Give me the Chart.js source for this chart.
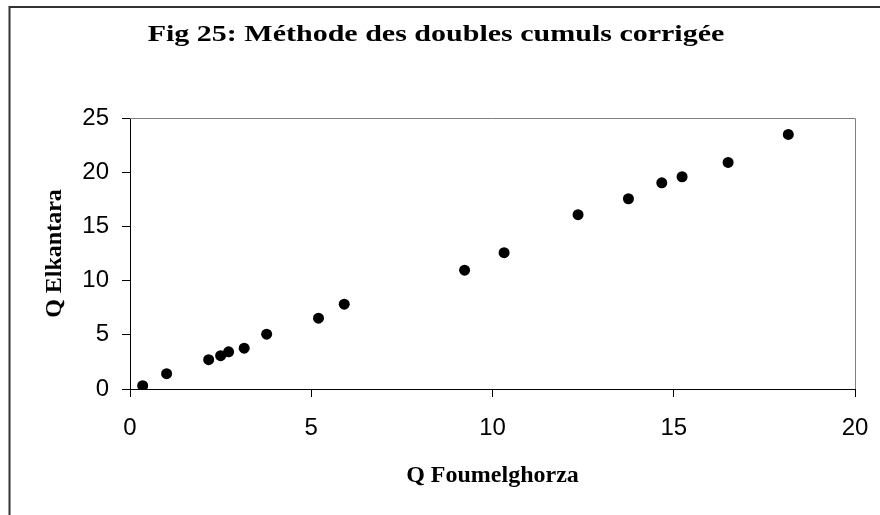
<!DOCTYPE html>
<html>
<head>
<meta charset="utf-8">
<script src="https://cdn.jsdelivr.net/npm/chart.js@4.4.1/dist/chart.umd.min.js"></script>
<style>
  html, body { margin: 0; padding: 0; background: #fff; }
  #wrap { width: 880px; height: 515px; }
</style>
</head>
<body>
<div id="wrap"><canvas id="graphe" width="880" height="515"></canvas></div>
<script>
// Valeurs (doubles cumuls)
const qFoumelghorza = [0.35, 1.01, 2.17, 2.50, 2.72, 3.15, 3.77, 5.20, 5.91, 9.23, 10.32, 12.36, 13.75, 14.67, 15.23, 16.50, 18.16];
const qElkantara    = [0.30, 1.41, 2.70, 3.07, 3.43, 3.77, 5.06, 6.53, 7.82, 10.96, 12.58, 16.08, 17.55, 19.02, 19.58, 20.90, 23.48];
const ticksX = [0, 5, 10, 15, 20];
const ticksY = [0, 5, 10, 15, 20, 25];

const titre = "Fig 25: Méthode des doubles cumuls corrigée";
const titreX = "Q Foumelghorza";
const titreY = "Q Elkantara";

const points = qFoumelghorza.map((x, i) => ({ x: x, y: qElkantara[i] }));

// titre un peu etire en largeur, comme sur la figure d'origine
const titreEtire = {
    id: "titreEtire",
    afterDraw(chart) {
        const ctx = chart.ctx;
        ctx.save();
        ctx.font = "bold 24px 'Liberation Serif', 'Times New Roman', serif";
        ctx.fillStyle = "#000";
        ctx.textAlign = "center";
        ctx.textBaseline = "alphabetic";
        ctx.translate(chart.width / 2 - 4, 41);
        ctx.scale(1.25, 1);
        ctx.fillText(titre, 0, 0);
        ctx.restore();
    }
};

// cadre gris du trace + bordure de la page
const cadre = {
    id: "cadre",
    afterDraw(chart) {
        const { ctx, chartArea: a } = chart;
        ctx.save();
        ctx.strokeStyle = "#808080";
        ctx.lineWidth = 1;
        ctx.beginPath();
        ctx.moveTo(a.left, a.top + 0.5);
        ctx.lineTo(a.right + 0.5, a.top + 0.5);
        ctx.lineTo(a.right + 0.5, a.bottom);
        ctx.stroke();
        ctx.strokeStyle = "#333";
        ctx.lineWidth = 2;
        ctx.beginPath();
        ctx.moveTo(9.5, 515);
        ctx.lineTo(9.5, 7);
        ctx.lineTo(880, 7);
        ctx.stroke();
        ctx.restore();
    }
};

const axe = (ticks) => ({
    type: "linear",
    min: ticks[0],
    max: ticks[ticks.length - 1],
    afterBuildTicks: s => { s.ticks = ticks.map(v => ({ value: v })); },
    grid: { display: true, drawOnChartArea: false, drawTicks: true, tickLength: 8, color: "#000" },
    border: { display: true, color: "#000", width: 1 },
});

new Chart(document.getElementById("graphe").getContext("2d"), {
    type: "scatter",
    data: {
        datasets: [{
            data: points,
            backgroundColor: "#000",
            borderWidth: 0,
            pointRadius: 5.5,
            pointHoverRadius: 5.5,
        }],
    },
    options: {
        responsive: false,
        animation: false,
        layout: { padding: { left: 0, right: 25, top: 118, bottom: 0 } },
        plugins: {
            legend: { display: false },
            tooltip: { enabled: false },
            title: { display: false },
        },
        scales: {
            x: {
                ...axe(ticksX),
                afterFit: s => { s.height = 126; s.paddingLeft = 0; s.paddingRight = 0; },
                ticks: { color: "#000", padding: 17, font: { family: "'Liberation Sans', Arial, sans-serif", size: 24 } },
                title: {
                    display: true, text: titreX, color: "#000",
                    font: { family: "'Liberation Serif', 'Times New Roman', serif", size: 24, weight: "bold" },
                    padding: { top: 0, bottom: 25 },
                },
            },
            y: {
                ...axe(ticksY),
                afterFit: s => { s.width = 130; s.paddingTop = 0; s.paddingBottom = 0; },
                ticks: { color: "#000", padding: 13, font: { family: "'Liberation Sans', Arial, sans-serif", size: 24 } },
                title: {
                    display: true, text: titreY, color: "#000",
                    font: { family: "'Liberation Serif', 'Times New Roman', serif", size: 24, weight: "bold" },
                    padding: { top: 40, bottom: 0 },
                },
            },
        },
    },
    plugins: [cadre, titreEtire],
});
</script>
</body>
</html>
